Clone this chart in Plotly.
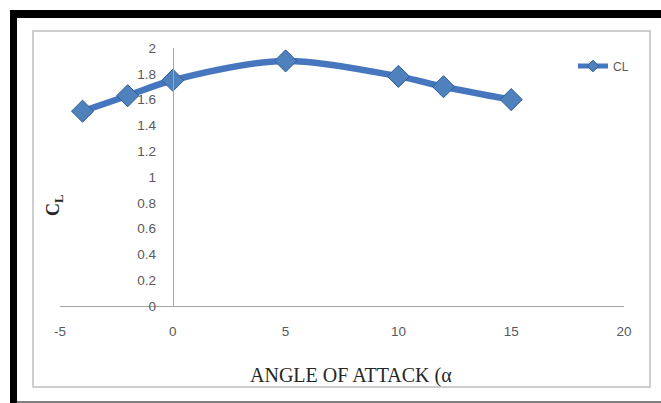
import plotly.graph_objects as go

# Lift coefficient vs angle of attack
alpha = [-4, -2, 0, 5, 10, 12, 15]
cl = [1.51, 1.63, 1.75, 1.90, 1.78, 1.70, 1.60]

x_tickvals = [-5, 0, 5, 10, 15, 20]
x_ticktext = ["-5", "0", "5", "10", "15", "20"]

W, H = 661, 403
L, R, T, B = 60, 37, 48, 97
PW, PH = W - L - R, H - T - B


def px(xp):
    return (xp - L) / PW


def py(yp):
    return (H - B - yp) / PH


line_color = "#4677BE"
marker_color = "#4F81BD"
marker_edge = "#2F5C96"

fig = go.Figure()

fig.add_trace(go.Scatter(
    x=alpha, y=cl, mode="lines+markers", name="CL",
    line=dict(color=line_color, width=6.5, shape="spline", smoothing=0.9),
    marker=dict(symbol="diamond", size=17, color=marker_color,
                line=dict(color=marker_edge, width=1)),
    showlegend=False, cliponaxis=False,
))

# legend entry with a smaller symbol
fig.add_trace(go.Scatter(
    x=[None], y=[None], mode="lines+markers", name="CL",
    line=dict(color=line_color, width=5),
    marker=dict(symbol="diamond", size=9, color=marker_color,
                line=dict(color=marker_edge, width=1)),
))

tick_font = dict(family="Liberation Sans, Arial, sans-serif", size=13.5, color="#595959")
legend_font = dict(family="Liberation Sans, Arial, sans-serif", size=12, color="#595959")

fig.update_layout(
    width=W, height=H,
    margin=dict(l=L, r=R, t=T, b=B),
    paper_bgcolor="white", plot_bgcolor="white",
    showlegend=True,
    legend=dict(x=px(573), y=py(66), xanchor="left", yanchor="middle",
                bgcolor="rgba(0,0,0,0)", font=legend_font,
                itemwidth=30, tracegroupgap=0, borderwidth=0),
    xaxis=dict(range=[-5, 20], tickvals=x_tickvals, ticktext=x_ticktext,
               showgrid=False, zeroline=False, showline=True,
               linecolor="#A6A6A6", linewidth=1.3, ticks="",
               ticklabelstandoff=13, tickfont=tick_font),
    yaxis=dict(range=[0, 2], dtick=0.2, anchor="free", position=0.2,
               showgrid=False, zeroline=False, showline=True,
               linecolor="#A6A6A6", linewidth=1.3, ticks="",
               ticklabelstandoff=14, tickfont=tick_font),
    font=tick_font,
)

shapes = [
    # outer black frame (top and left)
    dict(type="rect", xref="paper", yref="paper", x0=px(10), x1=px(661),
         y0=py(18), y1=py(10), fillcolor="black", line=dict(width=0), layer="above"),
    dict(type="rect", xref="paper", yref="paper", x0=px(10), x1=px(17),
         y0=py(403), y1=py(10), fillcolor="black", line=dict(width=0), layer="above"),
    # bottom grey rule
    dict(type="line", xref="paper", yref="paper", x0=px(17), x1=px(661),
         y0=py(402), y1=py(402), line=dict(color="#7F7F7F", width=2)),
    # chart area border
    dict(type="rect", xref="paper", yref="paper", x0=px(33), x1=px(650),
         y0=py(387), y1=py(31), line=dict(color="#BFBFBF", width=1.5)),
]
fig.update_layout(shapes=shapes)

fig.add_annotation(
    text="ANGLE OF ATTACK (α", xref="paper", yref="paper",
    x=px(351), y=py(375), xanchor="center", yanchor="middle", showarrow=False,
    font=dict(family="Liberation Serif, Times New Roman, serif", size=20, color="#262626"),
)
fig.add_annotation(
    text="<b>C<sub>L</sub></b>", xref="paper", yref="paper",
    x=px(54), y=py(206), xanchor="center", yanchor="middle", showarrow=False,
    textangle=-90,
    font=dict(family="Liberation Serif, Times New Roman, serif", size=18, color="#262626"),
)

fig.write_html("out.html")
